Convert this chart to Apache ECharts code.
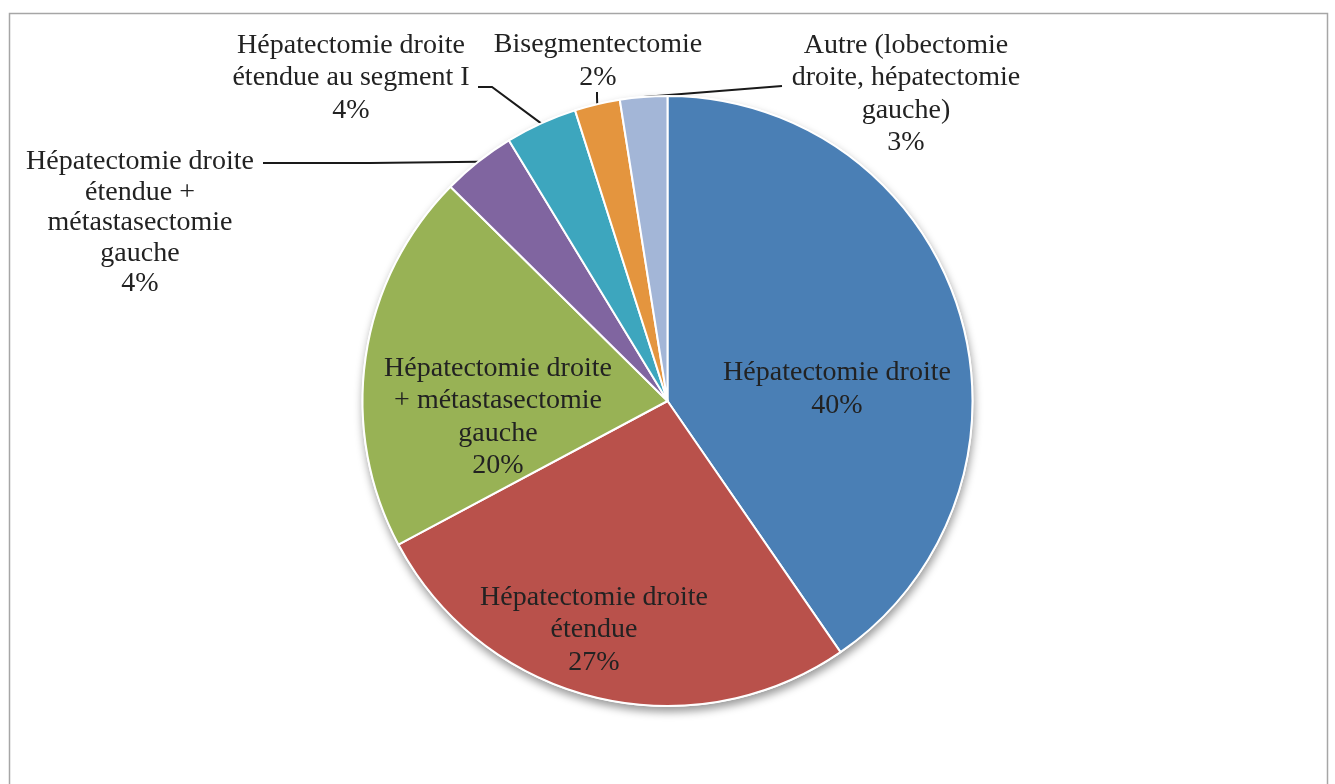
<!DOCTYPE html>
<html>
<head>
<meta charset="utf-8">
<script src="https://cdn.jsdelivr.net/npm/echarts@6/dist/echarts.min.js"></script>
<style>
  html, body { margin: 0; padding: 0; background: #ffffff; }
  #chart { width: 1335px; height: 784px; }
</style>
</head>
<body>
<div id="chart"></div>
<script>
// ---- Data ----
const categories = [
  "Hépatectomie droite",
  "Hépatectomie droite\nétendue",
  "Hépatectomie droite\n+ métastasectomie\ngauche",
  "Hépatectomie droite\nétendue +\nmétastasectomie\ngauche",
  "Hépatectomie droite\nétendue au segment I",
  "Bisegmentectomie",
  "Autre (lobectomie\ndroite, hépatectomie\ngauche)"
];
const shares = [40.4, 26.8, 20.2, 3.9, 3.8, 2.4, 2.5];
const colors = ["#4A7FB5", "#B9514B", "#98B255", "#8065A0", "#3DA6BE", "#E4953E", "#A3B6D7"];

// ---- Presentation: label placement (not data) ----
const labelPlace = [
  { x: 837, y: 389, inside: true },
  { x: 594, y: 630, inside: true },
  { x: 498, y: 417, inside: true },
  { x: 140, y: 223, lh: 30.5, line: e => [e, [370, 163], [263, 163]] },
  { x: 351, y: 78, line: e => [e, [492, 87], [478, 87]] },
  { x: 598, y: 61, line: e => [e, [597, 97], [597, 92]] },
  { x: 906, y: 94, line: e => [e, [713, 91.5], [782, 86]] }
];

const chart = echarts.init(document.getElementById('chart'), null, { renderer: 'canvas' });

const pieData = categories.map((name, i) => {
  const p = labelPlace[i];
  return {
    name: name,
    value: shares[i],
    itemStyle: { color: colors[i] },
    label: {
      position: p.inside ? 'inside' : 'outside',
      lineHeight: p.lh || 32.5
    },
    labelLine: { show: !p.inside }
  };
});

const option = {
  backgroundColor: '#ffffff',
  animation: false,
  graphic: [{
    type: 'rect',
    shape: { x: 9.5, y: 13.5, width: 1318, height: 800 },
    style: { fill: 'none', stroke: '#A6A6A6', lineWidth: 1.5 },
    silent: true,
    z: -10
  }],
  series: [
    {
      // shadow disc under the pie
      type: 'pie',
      silent: true,
      center: ['50%', 401],
      radius: 306,
      label: { show: false },
      labelLine: { show: false },
      itemStyle: {
        color: '#ffffff',
        shadowBlur: 9,
        shadowOffsetX: 1,
        shadowOffsetY: 5,
        shadowColor: 'rgba(0,0,0,0.4)'
      },
      data: [{ value: 1, name: '' }],
      z: 1
    },
    {
      type: 'pie',
      center: ['50%', 401],
      radius: 305,
      startAngle: 90,
      clockwise: true,
      avoidLabelOverlap: false,
      z: 2,
      itemStyle: { borderColor: '#ffffff', borderWidth: 2 },
      label: {
        show: true,
        fontFamily: '"Liberation Serif", serif',
        fontSize: 28,
        color: '#222222',
        align: 'center',
        formatter: p => p.name + '\n' + Math.round(p.value) + '%'
      },
      labelLine: {
        show: true,
        lineStyle: { color: '#1a1a1a', width: 2 }
      },
      labelLayout: function (params) {
        const p = labelPlace[params.dataIndex];
        const out = { x: p.x, y: p.y, align: 'center', verticalAlign: 'middle' };
        if (!p.inside && params.labelLinePoints) {
          out.labelLinePoints = p.line(params.labelLinePoints[0]);
        }
        return out;
      },
      data: pieData
    }
  ]
};

chart.setOption(option);
</script>
</body>
</html>
